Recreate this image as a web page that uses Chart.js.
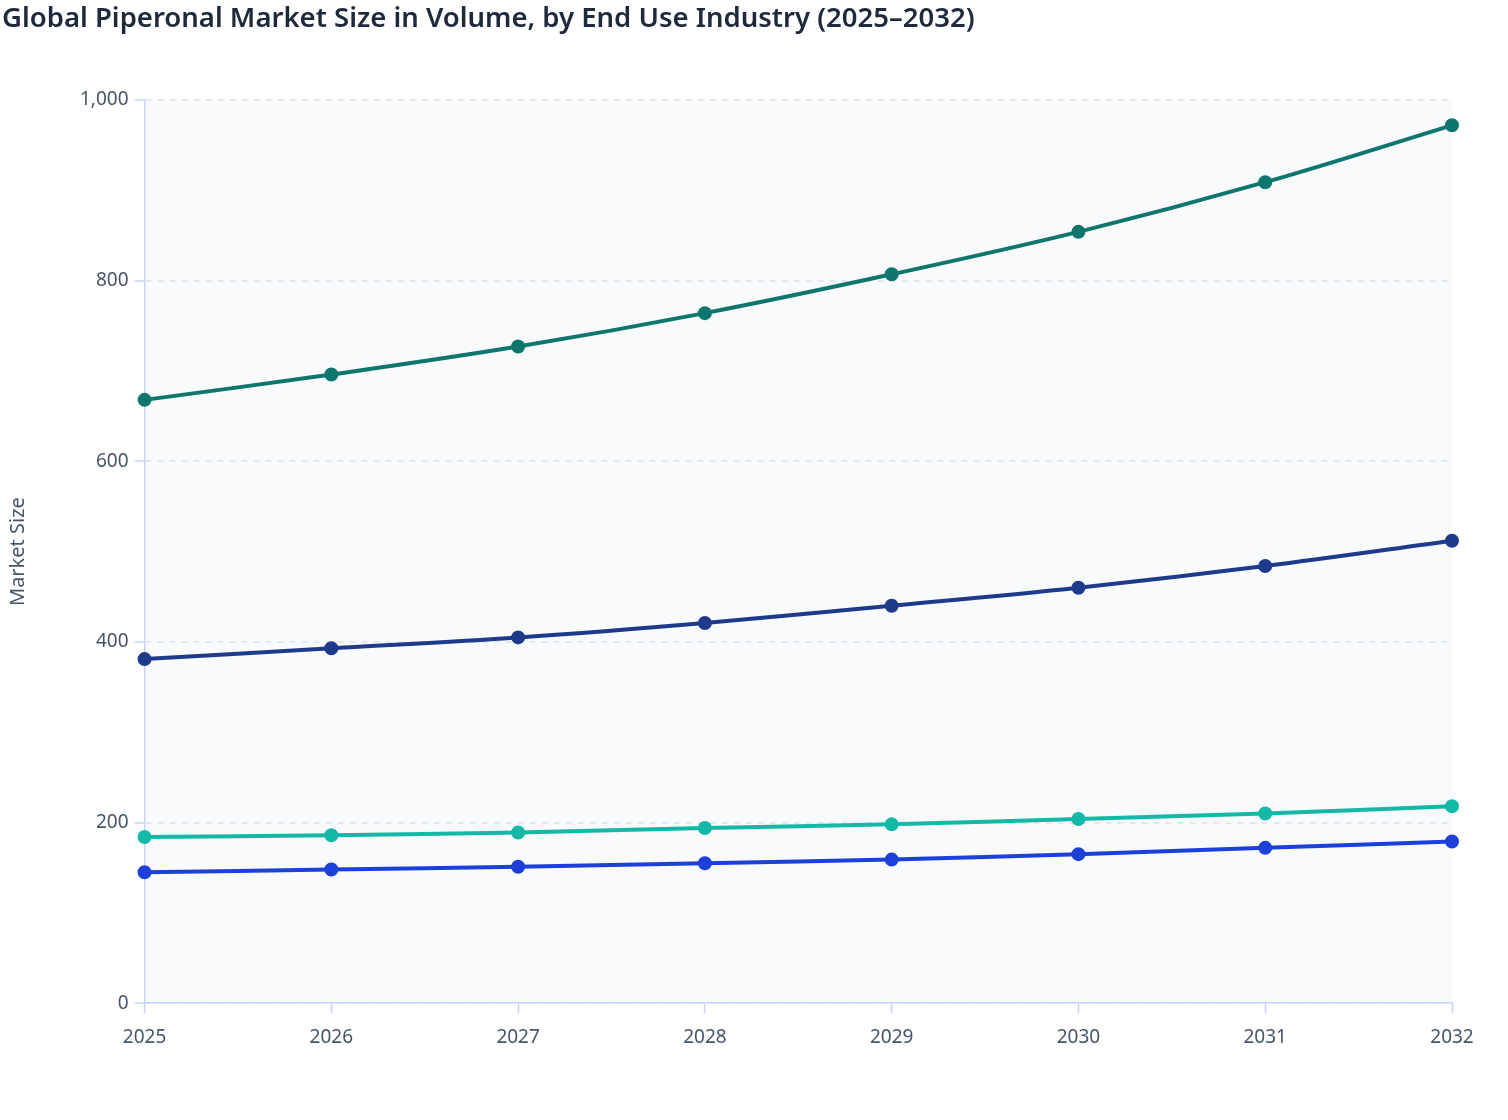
<!DOCTYPE html>
<html>
<head>
<meta charset="utf-8">
<script src="https://cdn.jsdelivr.net/npm/chart.js@4/dist/chart.umd.min.js"></script>
<style>
html,body{margin:0;padding:0;background:#fff;}
#wrap{width:1508px;height:1120px;position:relative;}
</style>
</head>
<body>
<div id="wrap"><canvas id="c" width="1508" height="1120"></canvas></div>
<script>
const years = ["2025","2026","2027","2028","2029","2030","2031","2032"];
const seriesA = [668, 696, 727, 764, 807, 854, 909, 972];
const seriesB = [381, 393, 405, 421, 440, 460, 484, 512];
const seriesC = [184, 186, 189, 194, 198, 204, 210, 218];
const seriesD = [145, 148, 151, 155, 159, 165, 172, 179];
const seriesNames = ["Series A", "Series B", "Series C", "Series D"];
const chartTitle = "Global Piperonal Market Size in Volume, by End Use Industry (2025–2032)";
const yTitle = "Market Size";

const bgPlugin = {
  id: 'bg',
  beforeDraw(chart) {
    const {ctx, chartArea} = chart;
    ctx.save();
    ctx.fillStyle = '#f8fafc';
    ctx.fillRect(chartArea.left, chartArea.top, chartArea.right - chartArea.left, chartArea.bottom - chartArea.top);
    ctx.restore();
  }
};

const font = "'Noto Sans', 'Open Sans', sans-serif";
function ds(label, data, color) {
  return {
    label, data,
    borderColor: color, backgroundColor: color,
    pointBackgroundColor: color, pointBorderColor: color,
    borderWidth: 4, pointRadius: 5, pointHoverRadius: 5,
    tension: 0.35, fill: false, clip: false
  };
}

new Chart(document.getElementById('c'), {
  type: 'line',
  data: {
    labels: years,
    datasets: [
      ds(seriesNames[0], seriesA, '#0f766e'),
      ds(seriesNames[1], seriesB, '#1e3a8a'),
      ds(seriesNames[2], seriesC, '#14b8a6'),
      ds(seriesNames[3], seriesD, '#1d40d8')
    ]
  },
  options: {
    responsive: false,
    animation: false,
    devicePixelRatio: 1,
    layout: { padding: { left: 2, right: 56, top: 0, bottom: 58 } },
    plugins: {
      legend: { display: false },
      tooltip: { enabled: false },
      title: {
        display: true, text: chartTitle, align: 'start',
        color: '#1e293b',
        font: { family: font, size: 27.5, weight: '600' },
        padding: { top: 3, bottom: 64 }
      }
    },
    scales: {
      x: {
        offset: false,
        grid: { display: true, drawOnChartArea: false, drawTicks: true, tickLength: 10, color: '#c7d2fe', tickColor: '#c7d2fe', tickWidth: 1.5 },
        border: { display: true, color: '#c7d2fe', width: 1.5 },
        ticks: { color: '#475569', font: { family: font, size: 19 }, padding: 13, maxRotation: 0 }
      },
      y: {
        min: 0, max: 1000,
        grid: { color: '#e2e8f0', lineWidth: 2, tickColor: '#c7d2fe', tickLength: 10, tickWidth: 1.5, tickBorderDash: [] },
        border: { display: true, color: '#c7d2fe', width: 1.5, dash: [6, 6] },
        ticks: { stepSize: 200, color: '#475569', font: { family: font, size: 19 }, padding: 6,
          callback: v => v.toLocaleString('en-US') },
        title: { display: true, text: yTitle, color: '#475569', font: { family: font, size: 20 }, padding: { bottom: 44 } }
      }
    }
  },
  plugins: [bgPlugin]
});
</script>
</body>
</html>
